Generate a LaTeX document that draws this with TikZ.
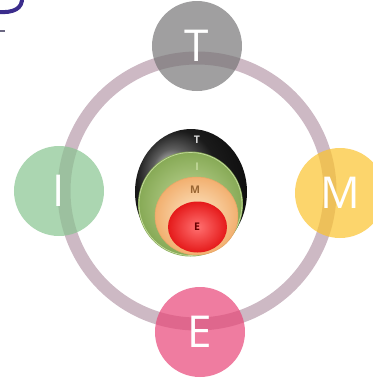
\documentclass[tikz,border=0pt]{standalone}
\usepackage{fontspec}
\setsansfont{Open Sans}
\usetikzlibrary{positioning}

\definecolor{ringmauve}{HTML}{CDB9C4}
\definecolor{tgray}{HTML}{777677}
\definecolor{igreen}{HTML}{88C490}
\definecolor{mgold}{HTML}{FBC32D}
\definecolor{epink}{HTML}{E84577}
\definecolor{titleink}{HTML}{3B2C8C}
\definecolor{coregreenin}{HTML}{C4DA9C}
\definecolor{coregreenout}{HTML}{86A955}
\definecolor{corepeachin}{HTML}{FDE8C8}
\definecolor{corepeachout}{HTML}{F2B070}
\definecolor{coreredin}{HTML}{FF7070}
\definecolor{coreredout}{HTML}{E51A1A}

\tikzset{
  letterdisc/.style={circle, minimum size=18mm, inner sep=0pt, fill opacity=0.7,
    text opacity=1, text=white, font=\sffamily\fontsize{25}{25}\selectfont},
  coreletter/.style={inner sep=0pt, font=\sffamily\bfseries\fontsize{6}{6}\selectfont}
}

\begin{document}
\begin{tikzpicture}[x=0.2mm, y=-0.2mm]
\clip (0,0) rectangle (373,378);

% Title fragment
\draw[titleink, line width=0.8mm] (22,-3) .. controls (23,9) and (13,13) .. (-2,12);
\draw[gray!70!titleink, line width=0.3mm] (-2,31) -- (5,31);

% Outer ring
\draw[ringmauve, line width=2.6mm] (197,191) circle [radius=26.6mm];

% Letter discs
\node[letterdisc, fill=tgray] (T) at (197,46) {T};
\node[letterdisc, fill=igreen] (I) at (59,191) {I};
\node[letterdisc, fill=mgold] (M) at (340,193) {M};
\node[letterdisc, fill=epink] (E) at (200,332) {E};

% Nested core
\shade[ball color=black!85] (191,192) ellipse [x radius=11.2mm, y radius=12.6mm];
\shade[inner color=coregreenin, outer color=coregreenout]
  (190.5,204) circle [radius=10.5mm];
\draw[coregreenin, line width=0.4pt] (190.5,204) circle [radius=10.3mm];
\shade[inner color=corepeachin, outer color=corepeachout]
  (196.5,216) ellipse [x radius=8.3mm, y radius=7.8mm];
\draw[corepeachout!80!brown, line width=0.3pt] (196.5,216) ellipse [x radius=8.3mm, y radius=7.8mm];
\shade[inner color=coreredin, outer color=coreredout] (197.5,227)
  ellipse [x radius=5.9mm, y radius=5.1mm];

\node[coreletter, text=white!85!black] (t) at (197,140) {T};
\node[coreletter, text=coregreenin] (i) at (197,167) {I};
\node[coreletter, text=brown!80!black] (m) at (195,190) {M};
\node[coreletter, text=red!40!black] (e) at (197,227) {E};
\end{tikzpicture}
\end{document}
